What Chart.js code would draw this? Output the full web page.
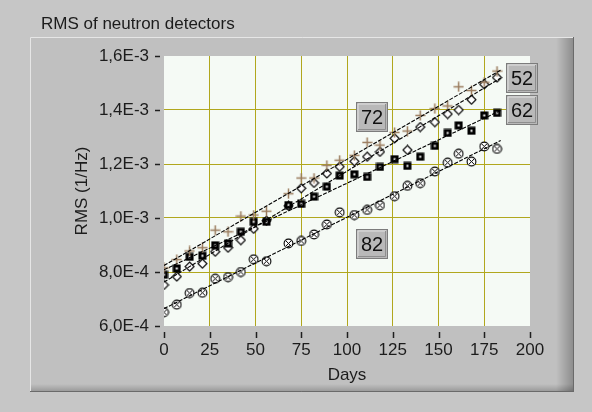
<!DOCTYPE html>
<html>
<head>
<meta charset="utf-8">
<title>RMS of neutron detectors</title>
<script src="https://cdn.jsdelivr.net/npm/chart.js@4.4.1/dist/chart.umd.min.js"></script>
<style>
  html, body { margin: 0; padding: 0; background: #c6c6c6; }
  #wrap { width: 592px; height: 412px; position: relative; }
  canvas { display: block; }
</style>
</head>
<body>
<div id="wrap"><canvas id="chart" width="592" height="412"></canvas></div>
<script>
// Measurement days and weekly RMS values of the four neutron detectors
const days = [0, 7, 14, 21, 28, 35, 42, 49, 56, 68, 75, 82, 89, 96, 104, 111, 118, 126, 133, 140, 148, 155, 161, 168, 175, 182];

const rms52 = [8.15e-4, 8.46e-4, 8.78e-4, 8.90e-4, 9.55e-4, 9.49e-4, 10.07e-4, 10.11e-4, 10.25e-4, 10.90e-4, 11.48e-4, 11.48e-4, 11.95e-4,
               12.14e-4, 12.32e-4, 12.80e-4, 12.70e-4, 13.17e-4, 13.22e-4, 13.80e-4, 14.05e-4, 14.15e-4, 14.86e-4, 14.72e-4, 15.03e-4, 15.44e-4];
const rms62 = [7.90e-4, 8.13e-4, 8.56e-4, 8.60e-4, 8.99e-4, 9.06e-4, 9.49e-4, 9.86e-4, 9.86e-4, 10.48e-4, 10.52e-4, 10.79e-4, 11.16e-4,
               11.57e-4, 11.62e-4, 11.52e-4, 11.89e-4, 12.18e-4, 11.93e-4, 12.27e-4, 12.67e-4, 13.15e-4, 13.43e-4, 13.23e-4, 13.80e-4, 13.89e-4];
const rms72 = [7.52e-4, 7.83e-4, 8.20e-4, 8.31e-4, 8.75e-4, 8.90e-4, 9.18e-4, 9.60e-4, 9.90e-4, 10.45e-4, 11.10e-4, 11.30e-4, 11.65e-4,
               11.90e-4, 12.10e-4, 12.27e-4, 12.45e-4, 12.95e-4, 12.52e-4, 13.37e-4, 13.55e-4, 13.85e-4, 14.00e-4, 14.38e-4, 14.95e-4, 15.20e-4];
const rms82 = [6.51e-4, 6.79e-4, 7.22e-4, 7.23e-4, 7.75e-4, 7.81e-4, 8.00e-4, 8.47e-4, 8.40e-4, 9.06e-4, 9.15e-4, 9.39e-4, 9.76e-4,
               10.21e-4, 10.11e-4, 10.30e-4, 10.47e-4, 10.81e-4, 11.19e-4, 11.29e-4, 11.72e-4, 12.05e-4, 12.38e-4, 12.09e-4, 12.65e-4, 12.56e-4];

const seriesNames = ['52', '62', '72', '82'];
const seriesValues = [rms52, rms62, rms72, rms82];

const xTickValues = [0, 25, 50, 75, 100, 125, 150, 175, 200];
const xTickLabels = ['0', '25', '50', '75', '100', '125', '150', '175', '200'];
const yTickValues = [6e-4, 8e-4, 1.0e-3, 1.2e-3, 1.4e-3, 1.6e-3];
const yTickLabels = ['6,0E-4', '8,0E-4', '1,0E-3', '1,2E-3', '1,4E-3', '1,6E-3'];

const FONT = 'Liberation Sans, Arial, sans-serif';
const TEXT = '#1c1c1c';
const GRID = '#b1a71d';

// ---- point markers drawn on small canvases ----
function markerCanvas(size, draw) {
  const c = document.createElement('canvas');
  c.width = size; c.height = size;
  draw(c.getContext('2d'), size);
  return c;
}
const plusMarker = markerCanvas(11, (g, s) => {
  g.strokeStyle = '#9a7b5d'; g.lineWidth = 1.5;
  g.beginPath();
  g.moveTo(s / 2, 0.5); g.lineTo(s / 2, s - 0.5);
  g.moveTo(0.5, s / 2); g.lineTo(s - 0.5, s / 2);
  g.stroke();
});
const squareMarker = markerCanvas(9, (g, s) => {
  g.fillStyle = '#000'; g.fillRect(0.5, 0.5, s - 1, s - 1);
  g.fillStyle = '#fff'; g.fillRect(3.5, 3.5, 2, 2);
});
const diamondMarker = markerCanvas(11, (g, s) => {
  g.fillStyle = '#fff'; g.strokeStyle = '#000'; g.lineWidth = 1.1;
  g.beginPath();
  g.moveTo(s / 2, 1); g.lineTo(s - 1, s / 2); g.lineTo(s / 2, s - 1); g.lineTo(1, s / 2);
  g.closePath(); g.fill(); g.stroke();
});
const circleXMarker = markerCanvas(11, (g, s) => {
  const c = s / 2;
  g.fillStyle = '#fff'; g.strokeStyle = '#000'; g.lineWidth = 1.1;
  g.beginPath(); g.arc(c, c, 4.4, 0, Math.PI * 2); g.fill(); g.stroke();
  g.lineWidth = 1;
  g.beginPath();
  g.moveTo(c - 2.6, c - 2.6); g.lineTo(c + 2.6, c + 2.6);
  g.moveTo(c + 2.6, c - 2.6); g.lineTo(c - 2.6, c + 2.6);
  g.stroke();
});
const markers = [plusMarker, squareMarker, diamondMarker, circleXMarker];

// ---- least-squares trend line for each detector ----
function trend(xs, ys, x0, x1) {
  const n = xs.length;
  let sx = 0, sy = 0, sxx = 0, sxy = 0;
  for (let i = 0; i < n; i++) { sx += xs[i]; sy += ys[i]; sxx += xs[i] * xs[i]; sxy += xs[i] * ys[i]; }
  const m = (n * sxy - sx * sy) / (n * sxx - sx * sx);
  const b = (sy - m * sx) / n;
  return [{ x: x0, y: b + m * x0 }, { x: x1, y: b + m * x1 }];
}

const datasets = [];
seriesValues.forEach((vals, i) => {
  datasets.push({
    label: seriesNames[i] + ' trend',
    data: trend(days, vals, 0, 184),
    showLine: true,
    borderColor: '#000',
    borderWidth: 1.1,
    borderDash: [4, 1.5],
    pointRadius: 0,
    order: 0
  });
});
seriesValues.forEach((vals, i) => {
  datasets.push({
    label: seriesNames[i],
    data: days.map((d, k) => ({ x: d, y: vals[k] })),
    showLine: false,
    pointStyle: markers[i],
    pointRadius: 5,
    order: 1
  });
});

// ---- panel frame, title, tick marks and detector tags ----
const decorations = {
  id: 'decorations',
  beforeDraw(chart) {
    const ctx = chart.ctx;
    const a = chart.chartArea;
    ctx.save();
    ctx.fillStyle = '#c6c6c6';
    ctx.fillRect(0, 0, chart.width, chart.height);
    // raised panel
    const L = 30, T = 37, R = 574, B = 392;
    ctx.fillStyle = '#c0c0c0';
    ctx.fillRect(L, T, R - L, B - T);
    let gr = ctx.createLinearGradient(R - 18, 0, R, 0);
    gr.addColorStop(0, 'rgba(0,0,0,0)');
    gr.addColorStop(1, 'rgba(0,0,0,0.28)');
    ctx.fillStyle = gr;
    ctx.fillRect(R - 18, T, 18, B - T);
    gr = ctx.createLinearGradient(0, B - 8, 0, B);
    gr.addColorStop(0, 'rgba(0,0,0,0)');
    gr.addColorStop(1, 'rgba(0,0,0,0.22)');
    ctx.fillStyle = gr;
    ctx.fillRect(L, B - 8, R - L, 8);
    ctx.strokeStyle = '#e6e6e6'; ctx.lineWidth = 1;
    ctx.beginPath(); ctx.moveTo(L + 0.5, B); ctx.lineTo(L + 0.5, T + 0.5); ctx.lineTo(R, T + 0.5); ctx.stroke();
    ctx.strokeStyle = '#6a6a6a';
    ctx.beginPath(); ctx.moveTo(R - 0.5, T); ctx.lineTo(R - 0.5, B - 0.5); ctx.lineTo(L, B - 0.5); ctx.stroke();
    // plot background
    ctx.fillStyle = '#f5faf5';
    ctx.fillRect(a.left, a.top, a.right - a.left, a.bottom - a.top);
    // title
    ctx.fillStyle = TEXT;
    ctx.font = '17px ' + FONT;
    ctx.textAlign = 'left'; ctx.textBaseline = 'alphabetic';
    ctx.fillText('RMS of neutron detectors', 41, 29);
    // tick marks outside the plot
    const xs = chart.scales.x, ys = chart.scales.y;
    ctx.strokeStyle = '#202020'; ctx.lineWidth = 1.5;
    ctx.beginPath();
    yTickValues.forEach(v => {
      const py = Math.round(ys.getPixelForValue(v)) + 0.5;
      ctx.moveTo(a.left - 9, py); ctx.lineTo(a.left - 4, py);
    });
    xTickValues.forEach(v => {
      const px = Math.round(xs.getPixelForValue(v)) + 0.5;
      ctx.moveTo(px, a.bottom + 6); ctx.lineTo(px, a.bottom + 12);
    });
    ctx.stroke();
    ctx.restore();
  },
  afterDraw(chart) {
    const ctx = chart.ctx;
    const xs = chart.scales.x, ys = chart.scales.y;
    const tags = [
      { text: seriesNames[0], day: 195.7, value: 1.518e-3 },
      { text: seriesNames[1], day: 195.7, value: 1.399e-3 },
      { text: seriesNames[2], day: 113.6, value: 1.373e-3 },
      { text: seriesNames[3], day: 113.6, value: 0.903e-3 }
    ];
    ctx.save();
    tags.forEach(t => {
      const cx = Math.round(xs.getPixelForValue(t.day));
      const cy = Math.round(ys.getPixelForValue(t.value));
      const w = 32, h = 30;
      const x = cx - w / 2, y = cy - h / 2;
      ctx.fillStyle = '#b9b9b9';
      ctx.fillRect(x, y, w, h);
      ctx.strokeStyle = '#7c7c7c'; ctx.lineWidth = 1;
      ctx.strokeRect(x + 0.5, y + 0.5, w - 1, h - 1);
      ctx.strokeStyle = '#e2e2e2';
      ctx.beginPath(); ctx.moveTo(x + 2, y + h - 2); ctx.lineTo(x + 2, y + 2); ctx.lineTo(x + w - 2, y + 2); ctx.stroke();
      ctx.strokeStyle = '#8e8e8e';
      ctx.beginPath(); ctx.moveTo(x + w - 2.5, y + 2); ctx.lineTo(x + w - 2.5, y + h - 2.5); ctx.lineTo(x + 2, y + h - 2.5); ctx.stroke();
      ctx.fillStyle = '#111';
      ctx.font = '20px ' + FONT;
      ctx.textAlign = 'center'; ctx.textBaseline = 'middle';
      ctx.fillText(t.text, cx, cy + 1);
    });
    ctx.restore();
  }
};

const lastIndex = arr => arr.length - 1;

new Chart(document.getElementById('chart'), {
  type: 'scatter',
  data: { datasets },
  options: {
    responsive: false,
    animation: false,
    devicePixelRatio: 1,
    events: [],
    layout: { padding: { left: 0, right: 62, top: 56, bottom: 0 } },
    plugins: { legend: { display: false }, tooltip: { enabled: false }, title: { display: false } },
    scales: {
      x: {
        type: 'linear', min: 0, max: 200,
        afterBuildTicks: s => { s.ticks = xTickValues.map(v => ({ value: v })); },
        afterFit: s => { s.height = 86; },
        border: { display: false },
        grid: {
          drawTicks: false,
          lineWidth: 1,
          color: c => (c.index === 0 || c.index === lastIndex(xTickValues)) ? 'rgba(0,0,0,0)' : GRID
        },
        ticks: {
          padding: 14, color: TEXT, font: { family: FONT, size: 17 }, maxRotation: 0,
          callback: (v, i) => xTickLabels[i]
        },
        title: { display: true, text: 'Days', color: TEXT, font: { family: FONT, size: 17 }, padding: { top: 0, bottom: 26 } }
      },
      y: {
        type: 'linear', min: 6e-4, max: 1.6e-3,
        afterBuildTicks: s => { s.ticks = yTickValues.map(v => ({ value: v })); },
        afterFit: s => { s.width = 164; },
        border: { display: false },
        grid: {
          drawTicks: false,
          lineWidth: 1,
          color: c => (c.index === 0 || c.index === lastIndex(yTickValues)) ? 'rgba(0,0,0,0)' : GRID
        },
        ticks: {
          padding: 15, color: TEXT, font: { family: FONT, size: 17 },
          callback: (v, i) => yTickLabels[i]
        },
        title: { display: true, text: 'RMS (1/Hz)', color: TEXT, font: { family: FONT, size: 17 }, padding: { top: 72, bottom: 0 } }
      }
    }
  },
  plugins: [decorations]
});
</script>
</body>
</html>
